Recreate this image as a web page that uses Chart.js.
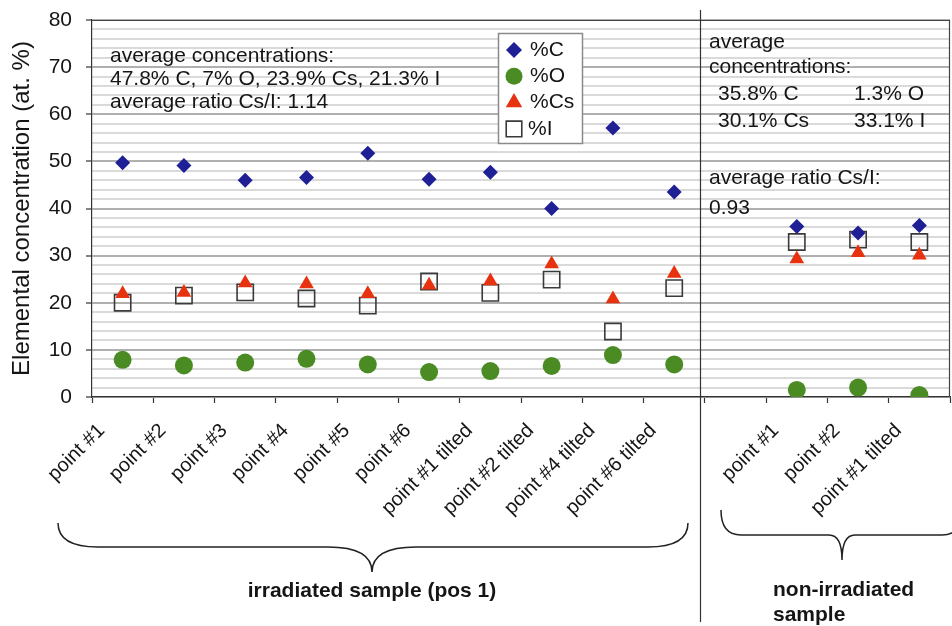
<!DOCTYPE html>
<html>
<head>
<meta charset="utf-8">
<script src="https://cdn.jsdelivr.net/npm/chart.js@4.4.1/dist/chart.umd.min.js"></script>
<style>
  html, body { margin: 0; padding: 0; background: #fff; }
  #wrap { width: 952px; height: 626px; }
</style>
</head>
<body>
<div id="wrap"><canvas id="edxChart" width="952" height="626"></canvas></div>
<script>
const FONT = "'Liberation Sans', Arial, Helvetica, sans-serif";
const INK = '#151515';

// --- measurement points ---
const irradiatedPoints = ['point #1', 'point #2', 'point #3', 'point #4', 'point #5', 'point #6',
    'point #1 tilted', 'point #2 tilted', 'point #4 tilted', 'point #6 tilted'];
const nonIrradiatedPoints = ['point #1', 'point #2', 'point #1 tilted'];

// elemental concentrations (at. %), irradiated sample (pos 1)
const carbonIrr = [49.7, 49.1, 46.0, 46.6, 51.7, 46.2, 47.7, 40.0, 57.1, 43.5];
const oxygenIrr = [7.9, 6.7, 7.3, 8.1, 6.9, 5.3, 5.5, 6.6, 8.9, 6.9];
const cesiumIrr = [21.9, 22.2, 24.2, 24.0, 21.9, 23.7, 24.6, 28.2, 20.8, 26.2];
const iodineIrr = [20.0, 21.5, 22.2, 20.9, 19.4, 24.5, 22.1, 24.9, 13.9, 23.1];

// elemental concentrations (at. %), non-irradiated sample
const carbonNon = [36.2, 34.8, 36.4];
const oxygenNon = [1.5, 2.0, 0.4];
const cesiumNon = [29.3, 30.6, 30.1];
const iodineNon = [32.9, 33.4, 32.9];

// y axis: 0..80, labelled every 10, light lines every 2
const yMin = 0;
const yMax = 80;
const yMajorStep = 10;
const yMinorStep = 2;

// one empty slot separates the two samples
const categories = [...irradiatedPoints, '', ...nonIrradiatedPoints];
function joinGroups(irr, non) {
    return [...irr, null, ...non];
}

const series = [
    { label: '%C', data: joinGroups(carbonIrr, carbonNon), style: 'rectRot', radius: 7.5, legendRadius: 8, fill: '#1f1f96', stroke: '#1f1f96', lw: 0 },
    { label: '%O', data: joinGroups(oxygenIrr, oxygenNon), style: 'circle', radius: 9, legendRadius: 8.5, fill: '#4a8c23', stroke: '#4a8c23', lw: 0 },
    { label: '%Cs', data: joinGroups(cesiumIrr, cesiumNon), style: 'triangle', radius: 8.5, legendRadius: 9.5, fill: '#e8320f', stroke: '#e8320f', lw: 0 },
    { label: '%I', data: joinGroups(iodineIrr, iodineNon), style: 'rect', radius: 11.5, legendRadius: 11, fill: 'rgba(255,255,255,0)', stroke: '#3a3a3a', lw: 1.6 }
];

// --- UTILITY: marker path, same geometry as Chart.js point styles ---
function drawMarker(ctx, s, x, y, r) {
    ctx.save();
    ctx.beginPath();
    if (s.style === 'circle') {
        ctx.arc(x, y, r, 0, Math.PI * 2);
    } else if (s.style === 'rectRot') {
        ctx.moveTo(x, y - r); ctx.lineTo(x + r, y); ctx.lineTo(x, y + r); ctx.lineTo(x - r, y);
    } else if (s.style === 'triangle') {
        ctx.moveTo(x, y - r);
        ctx.lineTo(x + r * Math.sin(2 * Math.PI / 3), y + r / 2);
        ctx.lineTo(x - r * Math.sin(2 * Math.PI / 3), y + r / 2);
    } else {
        const h = Math.SQRT1_2 * r;
        ctx.rect(x - h, y - h, 2 * h, 2 * h);
    }
    ctx.closePath();
    ctx.fillStyle = s.style === 'rect' ? '#fff' : s.fill;
    ctx.fill();
    if (s.lw > 0) {
        ctx.lineWidth = s.lw;
        ctx.strokeStyle = s.stroke;
        ctx.stroke();
    }
    ctx.restore();
}

// curly brace under a group of labels
function drawBrace(ctx, x1, x2, yEnd, yLine, xTip, yTip, cEnd, cTip) {
    ctx.beginPath();
    ctx.moveTo(x1, yEnd);
    ctx.quadraticCurveTo(x1, yLine, x1 + cEnd, yLine);
    ctx.lineTo(xTip - cTip, yLine);
    ctx.quadraticCurveTo(xTip, yLine, xTip, yTip);
    ctx.quadraticCurveTo(xTip, yLine, xTip + cTip, yLine);
    ctx.lineTo(x2 - cEnd, yLine);
    ctx.quadraticCurveTo(x2, yLine, x2, yEnd);
    ctx.stroke();
}

// --- plot frame, sample divider, braces, notes and legend ---
const decorations = {
    id: 'decorations',
    beforeDatasetsDraw(chart) {
        const { ctx, chartArea } = chart;
        ctx.save();
        ctx.strokeStyle = '#444';
        ctx.lineWidth = 1.2;
        ctx.beginPath();
        ctx.moveTo(chartArea.left, chartArea.top + 0.5);
        ctx.lineTo(chartArea.right - 0.5, chartArea.top + 0.5);
        ctx.lineTo(chartArea.right - 0.5, chartArea.bottom);
        ctx.stroke();
        ctx.restore();
    },
    afterDraw(chart) {
        const { ctx } = chart;
        const x = chart.scales.x;
        const gapLeft = (x.getPixelForValue(irradiatedPoints.length - 1) + x.getPixelForValue(irradiatedPoints.length)) / 2;

        ctx.save();
        // divider between the two samples
        ctx.strokeStyle = '#333';
        ctx.lineWidth = 1.2;
        ctx.beginPath();
        ctx.moveTo(Math.round(gapLeft - 5) + 0.5, 10);
        ctx.lineTo(Math.round(gapLeft - 5) + 0.5, 622);
        ctx.stroke();

        // braces
        ctx.strokeStyle = '#222';
        ctx.lineWidth = 1.5;
        drawBrace(ctx, 58, 688, 523, 547, 372, 572, 40, 44);
        drawBrace(ctx, 721, 962, 510, 535, 842, 560, 20, 13);

        // group captions
        ctx.fillStyle = INK;
        ctx.font = 'bold 21px ' + FONT;
        ctx.textBaseline = 'middle';
        ctx.textAlign = 'center';
        ctx.fillText('irradiated sample (pos 1)', 372, 591);
        ctx.textAlign = 'left';
        ctx.fillText('non-irradiated', 773, 590);
        ctx.fillText('sample', 773, 615);

        // averages
        ctx.font = '21px ' + FONT;
        ctx.fillText('average concentrations:', 110, 56);
        ctx.fillText('47.8% C, 7% O, 23.9% Cs, 21.3% I', 110, 79);
        ctx.fillText('average ratio Cs/I: 1.14', 110, 102);

        ctx.fillText('average', 709, 42);
        ctx.fillText('concentrations:', 709, 67);
        ctx.fillText('35.8% C', 718, 94);
        ctx.fillText('1.3% O', 854, 94);
        ctx.fillText('30.1% Cs', 718, 121);
        ctx.fillText('33.1% I', 854, 121);
        ctx.fillText('average ratio Cs/I:', 709, 178);
        ctx.fillText('0.93', 709, 208);

        // legend box
        ctx.fillStyle = '#fff';
        ctx.fillRect(498, 33, 84, 110);
        ctx.strokeStyle = '#8a8a8a';
        ctx.lineWidth = 1.5;
        ctx.strokeRect(498.5, 33.5, 84, 110);
        series.forEach((s, i) => {
            const ly = 50 + i * 26.3;
            drawMarker(ctx, s, 514, ly, s.legendRadius);
            ctx.fillStyle = INK;
            ctx.fillText(s.label, s.style === 'rect' ? 528 : 530, ly);
        });
        ctx.restore();
    }
};

const ctxEdx = document.getElementById('edxChart').getContext('2d');
new Chart(ctxEdx, {
    type: 'line',
    data: {
        labels: categories,
        datasets: series.map(s => ({
            label: s.label,
            data: s.data,
            showLine: false,
            pointStyle: s.style,
            pointRadius: s.radius,
            pointBackgroundColor: s.fill,
            pointBorderColor: s.stroke,
            pointBorderWidth: s.lw
        }))
    },
    options: {
        responsive: false,
        animation: false,
        events: [],
        layout: { autoPadding: false, padding: { top: 20, right: 2, left: 0, bottom: 0 } },
        plugins: {
            legend: { display: false },
            tooltip: { enabled: false }
        },
        scales: {
            x: {
                type: 'category',
                offset: true,
                afterFit(scale) {
                    scale.height = 229;
                    scale.paddingLeft = 0;
                    scale.paddingRight = 0;
                },
                grid: { offset: true, drawOnChartArea: false, tickLength: 6, tickColor: '#333', tickWidth: 1.2 },
                border: { color: '#333', width: 1.2 },
                ticks: {
                    autoSkip: false,
                    minRotation: 45,
                    maxRotation: 45,
                    padding: 16,
                    labelOffset: -21,
                    color: INK,
                    font: { family: FONT, size: 20 }
                }
            },
            y: {
                min: yMin,
                max: yMax,
                afterFit(scale) {
                    scale.width = 92;
                    scale.paddingTop = 0;
                    scale.paddingBottom = 0;
                },
                grid: {
                    color: c => (c.tick && c.tick.value % yMajorStep === 0) ? '#b0b0b0' : '#dadada',
                    lineWidth: 2,
                    tickLength: 6,
                    tickColor: c => (c.tick && c.tick.value % yMajorStep === 0) ? '#333' : 'rgba(0,0,0,0)',
                    tickWidth: 1.2
                },
                border: { color: '#333', width: 1.2 },
                ticks: {
                    stepSize: yMinorStep,
                    autoSkip: false,
                    padding: 14,
                    color: INK,
                    font: { family: FONT, size: 21 },
                    callback: v => (v % yMajorStep === 0 ? v : '')
                },
                title: {
                    display: true,
                    text: 'Elemental concentration (at. %)',
                    color: INK,
                    font: { family: FONT, size: 24 },
                    padding: { top: 8, bottom: 0 }
                }
            }
        }
    },
    plugins: [decorations]
});
</script>
</body>
</html>
